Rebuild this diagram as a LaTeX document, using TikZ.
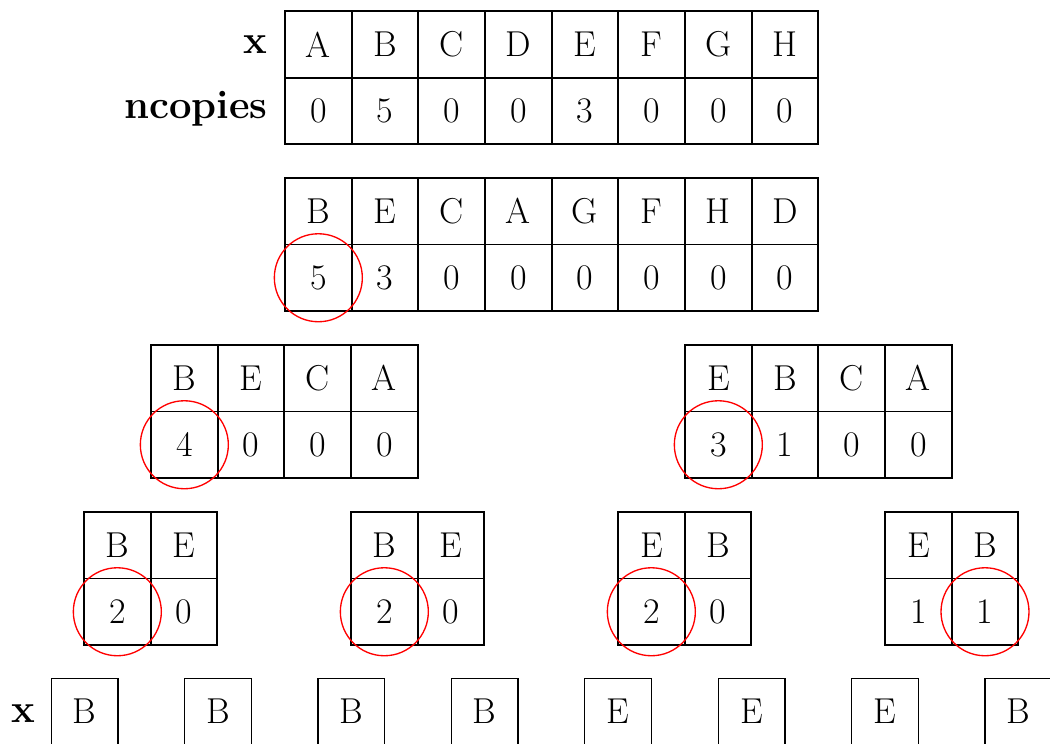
\documentclass[tikz,border=0pt]{standalone}
\tikzset{
  cell/.style={draw, line width=1.3pt, minimum width=50pt, minimum height=50pt, inner sep=0pt, outer sep=0pt, font=\fontsize{27}{31}\selectfont},
  single/.style={draw, line width=1.0pt, minimum width=50pt, minimum height=50pt, inner sep=0pt, outer sep=0pt, font=\fontsize{27}{31}\selectfont},
  ring/.style={draw=red, line width=1.0pt, circle, minimum size=66pt, inner sep=0pt},
  lbl/.style={font=\fontsize{30}{34}\selectfont\bfseries, inner sep=0pt}
}
% #1 name, #2 left x, #3 top y, #4 letters, #5 numbers, #6 circled index
\newcommand{\mytable}[6]{%
  \foreach \t [count=\i from 0] in {#4} {
    \node[cell] (#1a\i) at ({#2+33.333+66.667*\i},{#3+33.25}) {\t};
  }
  \foreach \t [count=\i from 0] in {#5} {
    \node[cell] (#1b\i) at ({#2+33.333+66.667*\i},{#3+99.75}) {\t};
  }
  \node[ring] (#1c) at (#1b#6) {};
}
\begin{document}
\begin{tikzpicture}[x=0.75pt, y=-0.75pt]
\useasboundingbox (0,0) rectangle (1050,743);
% top table
\foreach \t [count=\i from 0] in {A,B,C,D,E,F,G,H} {
  \node[cell] (ta\i) at ({285+33.333+66.667*\i},44.5) {\t};
}
\foreach \t [count=\i from 0] in {0,5,0,0,3,0,0,0} {
  \node[cell] (tb\i) at ({285+33.333+66.667*\i},111) {\t};
}
\node[lbl, anchor=east] (lx) at (268,44.5) {x};
\node[lbl, anchor=east] (ln) at (268,109) {ncopies};
% second
\mytable{s}{285}{178}{B,E,C,A,G,F,H,D}{5,3,0,0,0,0,0,0}{0}
% third
\mytable{p}{151}{345}{B,E,C,A}{4,0,0,0}{0}
\mytable{q}{685}{345}{E,B,C,A}{3,1,0,0}{0}
% fourth
\mytable{u}{84}{512}{B,E}{2,0}{0}
\mytable{v}{351}{512}{B,E}{2,0}{0}
\mytable{w}{618}{512}{E,B}{2,0}{0}
\mytable{z}{885}{512}{E,B}{1,1}{1}
% bottom
\foreach \t [count=\i from 0] in {B,B,B,B,E,E,E,B} {
  \node[single] (r\i) at ({51+33.5+133.4*\i},711.5) {\t};
}
\node[lbl, anchor=east] (lb) at (36,714) {x};
\end{tikzpicture}
\end{document}
